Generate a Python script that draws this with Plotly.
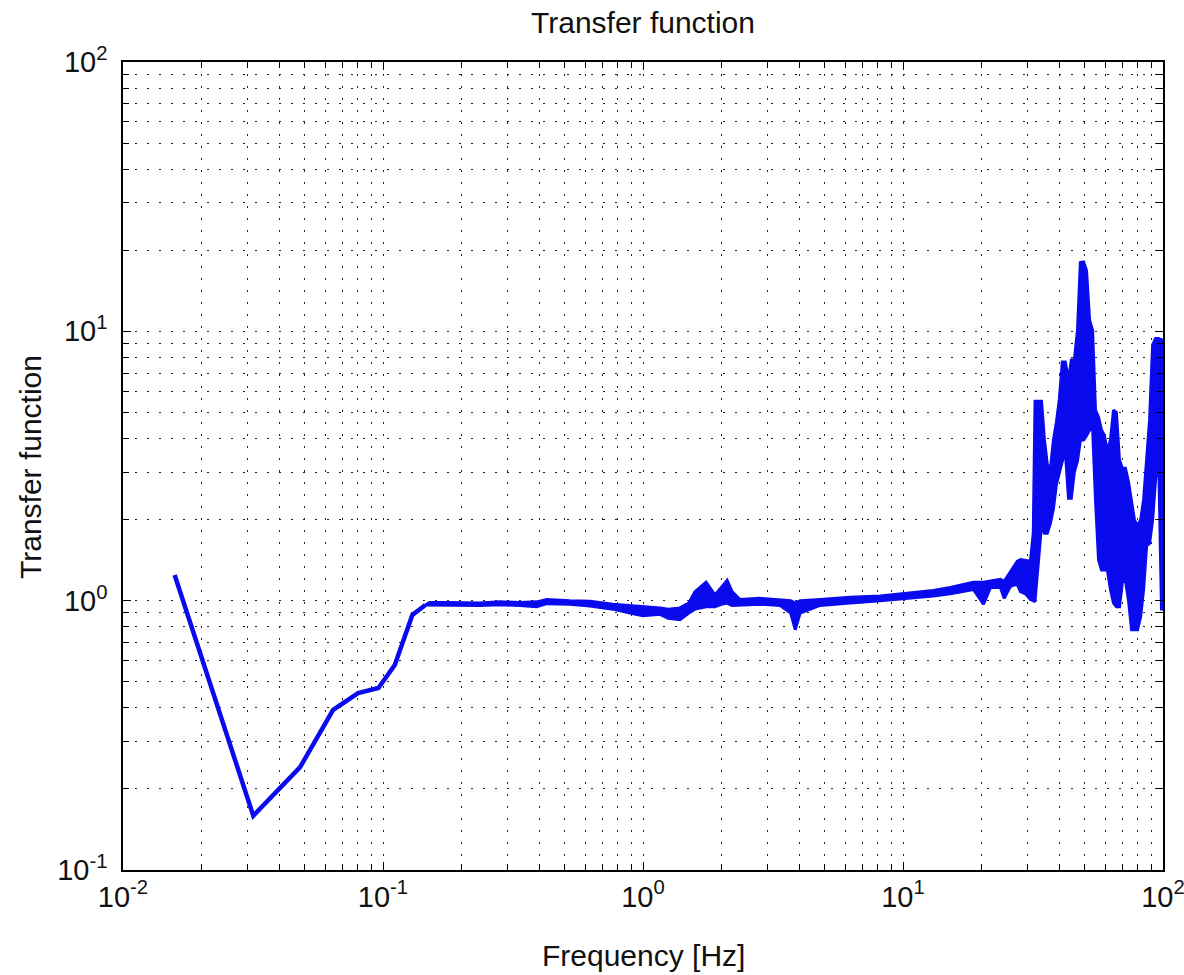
import plotly.graph_objects as go

# ---- data ----
# smooth low-frequency part
freq_low = [0.0158, 0.0317, 0.048, 0.0643, 0.0802, 0.096, 0.111, 0.122, 0.1297, 0.1456]
tf_low = [1.245, 0.159, 0.241, 0.393, 0.454, 0.474, 0.577, 0.746, 0.885, 0.964]

# mid band (slightly noisy): upper / lower envelope
freq_mid = [0.1456, 0.151, 0.181, 0.236, 0.282, 0.336, 0.39, 0.427, 0.523, 0.625, 0.766, 0.891, 1.0,
            1.163, 1.25, 1.387, 1.5, 1.585, 1.748, 1.89, 2.0, 2.106, 2.2, 2.36, 2.82, 3.37,
            3.7, 3.85, 4.02, 4.8, 6.26, 8.17, 10.66, 13.08, 15.2, 18.65, 20.4, 21.7, 23.7,
            24.5, 25.9, 26.6, 27.5, 28.3, 29.6, 30.9, 31.7]
tf_mid_hi = [0.964, 0.985, 0.985, 0.98, 0.99, 0.985, 0.99, 1.01, 1.0, 0.995, 0.97, 0.96, 0.95,
             0.94, 0.93, 0.94, 0.98, 1.08, 1.17, 1.05, 1.12, 1.19, 1.08, 1.01, 1.02, 1.01,
             1.0, 0.98, 1.0, 1.01, 1.03, 1.04, 1.07, 1.09, 1.12, 1.17, 1.17, 1.18, 1.20,
             1.18, 1.28, 1.34, 1.40, 1.42, 1.41, 1.40, 1.78]
tf_mid_lo = [0.964, 0.965, 0.965, 0.96, 0.965, 0.96, 0.95, 0.975, 0.97, 0.955, 0.93, 0.90, 0.88,
             0.89, 0.86, 0.85, 0.90, 0.93, 0.95, 0.95, 0.97, 0.98, 0.96, 0.96, 0.97, 0.96,
             0.90, 0.78, 0.90, 0.96, 0.98, 1.0, 1.02, 1.04, 1.06, 1.10, 0.97, 1.12, 1.12,
             1.02, 1.13, 1.14, 1.15, 1.08, 1.06, 1.01, 1.0]

# high-frequency resonant region: upper / lower envelope
freq_hf = [31.7, 32.2, 33.2, 34.1, 35.0, 35.9, 36.9, 37.9, 38.9, 39.9, 41.0, 42.1, 43.3,
           44.4, 45.6, 46.9, 48.1, 49.5, 50.8, 52.2, 53.6, 55.0, 56.5, 58.0, 59.5, 61.1,
           62.8, 64.5, 66.2, 68.0, 69.8, 71.7, 73.7, 75.7, 77.7, 79.8, 82.0, 84.2, 86.5,
           88.8, 91.2, 93.6, 96.1, 98.7]
tf_hf_hi = [1.78, 5.5, 5.5, 5.5, 3.95, 3.2, 3.1, 3.95, 4.6, 5.56, 7.7, 7.7, 6.6,
            7.83, 7.83, 10.1, 18.0, 18.1, 16.8, 11.0, 10.1, 5.1, 4.8, 4.3, 4.1, 3.6,
            3.95, 5.1, 5.0, 3.33, 3.1, 3.1, 2.75, 2.37, 1.99, 1.9, 1.99, 2.37, 3.33,
            4.69, 8.9, 9.4, 9.4, 9.3]
tf_hf_lo = [1.0, 1.0, 1.42, 1.9, 1.78, 1.78, 1.94, 2.2, 2.7, 3.0, 3.3, 3.6, 2.4,
            2.4, 3.0, 3.3, 3.95, 3.95, 4.1, 4.3, 4.4, 2.37, 1.42, 1.3, 1.3, 1.3,
            1.1, 0.98, 0.95, 0.95, 1.17, 1.19, 1.0, 0.78, 0.78, 0.78, 0.87, 1.1, 1.6,
            1.63, 1.99, 2.8, 3.6, 0.92]

x_tickvals = [0.01, 0.1, 1, 10, 100]
x_ticktext = ["10<sup>-2</sup>", "10<sup>-1</sup>", "10<sup>0</sup>", "10<sup>1</sup>", "10<sup>2</sup>"]
y_tickvals = [0.1, 1, 10, 100]
y_ticktext = ["10<sup>-1</sup>", "10<sup>0</sup>", "10<sup>1</sup>", "10<sup>2</sup>"]


def band(f, hi, lo):
    return list(f) + list(f)[::-1], list(hi) + list(lo)[::-1]


mx, my = band(freq_mid, tf_mid_hi, tf_mid_lo)
hx, hy = band(freq_hf, tf_hf_hi, tf_hf_lo)

FONT = "Liberation Sans"
BLUE = "#0a0aee"

fig = go.Figure()
fig.add_trace(go.Scatter(x=freq_low, y=tf_low, mode="lines",
                         line=dict(color=BLUE, width=4.5), showlegend=False))
fig.add_trace(go.Scatter(x=mx, y=my, mode="lines", fill="toself", fillcolor=BLUE,
                         line=dict(color=BLUE, width=3), showlegend=False))
fig.add_trace(go.Scatter(x=hx, y=hy, mode="lines", fill="toself", fillcolor=BLUE,
                         line=dict(color=BLUE, width=3), showlegend=False))

minor_x = [m * 10 ** e for e in range(-2, 2) for m in range(2, 10)]
minor_y = [m * 10 ** e for e in range(-1, 2) for m in range(2, 10)]

grid_common = dict(gridcolor="#222", gridwidth=1, griddash="2px,10px")

fig.update_xaxes(type="log", range=[-2, 2], tickmode="array", tickvals=x_tickvals,
                 ticktext=x_ticktext, ticks="inside", ticklen=8, tickcolor="black",
                 showline=True, linecolor="black", linewidth=1.5, mirror="allticks",
                 showgrid=True, zeroline=False, automargin=False, ticklabeloverflow="allow",
                 tickfont=dict(family=FONT, size=29, color="#111"),
                 minor=dict(tickmode="array", tickvals=minor_x, ticks="inside", ticklen=6,
                            tickcolor="black", showgrid=True, **grid_common),
                 **grid_common)
fig.update_yaxes(type="log", range=[-1, 2], tickmode="array", tickvals=y_tickvals,
                 ticktext=y_ticktext, ticks="inside", ticklen=8, tickcolor="black",
                 showline=True, linecolor="black", linewidth=1.5, mirror="allticks",
                 showgrid=True, zeroline=False, ticklabelstandoff=8, automargin=False,
                 ticklabeloverflow="allow",
                 tickfont=dict(family=FONT, size=29, color="#111"),
                 minor=dict(tickmode="array", tickvals=minor_y, ticks="inside", ticklen=6,
                            tickcolor="black", showgrid=True, **grid_common),
                 **grid_common)

fig.update_layout(
    width=1184, height=975,
    margin=dict(l=123, r=21, t=62, b=105),
    paper_bgcolor="white", plot_bgcolor="white",
    title=dict(text="Transfer function", x=0.5, xanchor="center", xref="paper",
               y=1 - 22 / 975, yanchor="middle", yref="container",
               font=dict(family=FONT, size=30, color="#111")),
    annotations=[
        dict(text="Frequency [Hz]", xref="paper", yref="paper", x=0.5,
             y=-(955 - 870) / 808, xanchor="center", yanchor="middle", showarrow=False,
             font=dict(family=FONT, size=30, color="#111")),
        dict(text="Transfer function", xref="paper", yref="paper",
             x=(30 - 123) / 1040, y=(870 - 467) / 808, xanchor="center", yanchor="middle",
             textangle=-90, showarrow=False,
             font=dict(family=FONT, size=30, color="#111")),
    ],
)

fig.write_html("out.html")
